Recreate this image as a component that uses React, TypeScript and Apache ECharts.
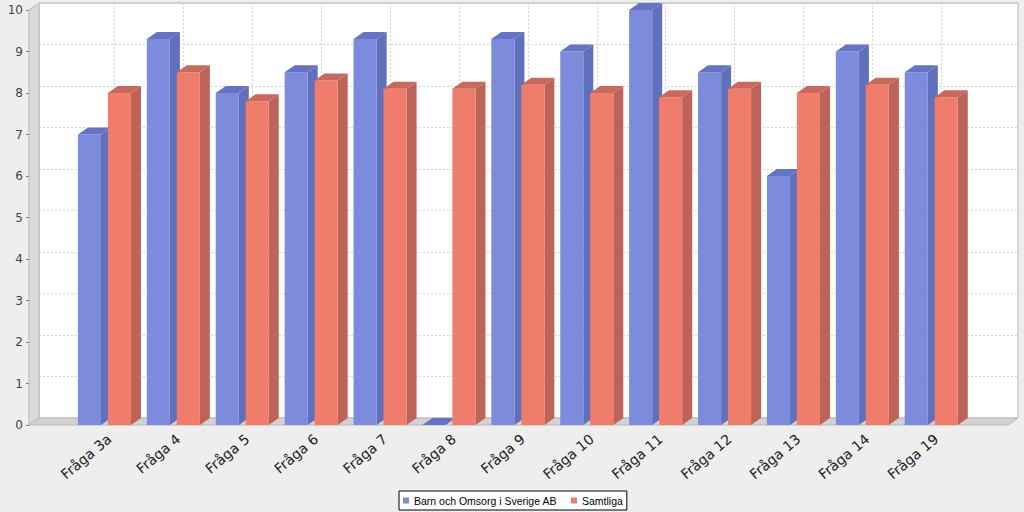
import React, { useEffect, useRef } from "react";
import * as echarts from "echarts";

const categories = ["Fråga 3a", "Fråga 4", "Fråga 5", "Fråga 6", "Fråga 7", "Fråga 8", "Fråga 9", "Fråga 10", "Fråga 11", "Fråga 12", "Fråga 13", "Fråga 14", "Fråga 19"];
const seriesNames = ["Barn och Omsorg i Sverige AB", "Samtliga"];
const barnValues = [7.0, 9.3, 8.0, 8.5, 9.3, 0, 9.3, 9.0, 10.0, 8.5, 6.0, 9.0, 8.5];
const samtligaValues = [8.0, 8.5, 7.8, 8.3, 8.1, 8.1, 8.2, 8.0, 7.9, 8.1, 8.0, 8.2, 7.9];
const yTicks = [0, 10, 1];

const DX = 10;
const DY = 7;

const palettes = [
  { front: "#7d8bdc", top: "#6673c4", side: "#6170ba" },
  { front: "#f07c6c", top: "#c9695c", side: "#be6357" },
];

function makeRender(seriesIdx: number) {
  const pal = palettes[seriesIdx];
  return (params: any, api: any) => {
    const idx = api.value(0);
    const val = api.value(1);
    const base = api.coord([idx, 0]);
    const top = api.coord([idx, val]);
    const band = api.size([1, 0])[0];
    const w = band * 0.335;
    const cx = base[0];
    const x0 = seriesIdx === 0 ? cx - band * 0.385 : cx + band * 0.05;
    const yb = base[1];
    const yt = top[1];
    const children: any[] = [];
    children.push({
      type: "polygon",
      shape: { points: [[x0 + w, yt], [x0 + w + DX, yt - DY], [x0 + w + DX, yb - DY], [x0 + w, yb]] },
      style: { fill: pal.side },
    });
    if (yb - yt > 0) {
      children.push({
        type: "rect",
        shape: { x: x0, y: yt, width: w, height: yb - yt },
        style: { fill: pal.front },
      });
    }
    children.push({
      type: "polygon",
      shape: { points: [[x0, yt], [x0 + DX, yt - DY], [x0 + w + DX, yt - DY], [x0 + w, yt]] },
      style: { fill: pal.top },
    });
    return { type: "group", children };
  };
}

export default function App() {
  const ref = useRef<HTMLDivElement>(null);
  useEffect(() => {
    document.body.style.margin = "0";
    document.body.style.background = "#eeeeee";
    const chart = echarts.init(ref.current!, null, { renderer: "svg" });
    const frontLeft = 29, frontRight = 1008, frontTop = 10, frontBottom = 425;
    const option: any = {
      animation: false,
      backgroundColor: "#eeeeee",
      textStyle: { fontFamily: "DejaVu Sans" },
      legend: {
        bottom: 2,
        left: 399,
        data: seriesNames,
        icon: "rect",
        itemWidth: 6,
        itemHeight: 6,
        itemGap: 14,
        padding: [4, 4],
        borderColor: "#000",
        borderWidth: 1,
        borderRadius: 0,
        backgroundColor: "#ffffff",
        textStyle: { fontSize: 10.5, color: "#000", fontFamily: "Liberation Sans" },
      },
      grid: [
        { left: 70, right: 58.3, top: frontTop, bottom: 512 - frontBottom },
        { left: frontLeft + DX, right: 1024 - frontRight - DX, top: frontTop - DY, bottom: 512 - frontBottom + DY, show: true, backgroundColor: "#ffffff", borderColor: "#b4b4b4", borderWidth: 1, z: 0 },
        { left: 104.5 + DX, right: 1024 - 931.3 - DX, top: frontTop - DY, bottom: 512 - frontBottom + DY },
        { left: 75, right: 53.3, top: frontTop, bottom: 512 - frontBottom },
      ],
      xAxis: [
        {
          type: "category",
          gridIndex: 0,
          data: categories,
          axisLine: { show: false },
          axisTick: { show: false },
          axisLabel: { show: false },
        },
        { type: "category", gridIndex: 1, data: categories, show: false },
        {
          type: "category",
          gridIndex: 2,
          data: categories,
          boundaryGap: false,
          axisLine: { show: false },
          axisTick: { show: false },
          axisLabel: { show: false },
          splitLine: { show: true, lineStyle: { color: "#d4d4d4", type: [2, 2], width: 1 } },
        },
        {
          type: "category",
          gridIndex: 3,
          data: categories,
          axisLine: { show: false },
          axisTick: { show: false },
          axisLabel: { rotate: 40, fontSize: 14, color: "#222", margin: 12, interval: 0 },
        },
      ],
      yAxis: [
        {
          type: "value",
          gridIndex: 0,
          min: yTicks[0],
          max: yTicks[1],
          interval: yTicks[2],
          offset: 70 - frontLeft,
          axisLine: { show: false },
          axisTick: { show: true, length: 3, lineStyle: { color: "#777" } },
          axisLabel: { fontSize: 12, color: "#444", margin: 6 },
          splitLine: { show: false },
        },
        {
          type: "value",
          gridIndex: 1,
          min: yTicks[0],
          max: yTicks[1],
          interval: yTicks[2],
          axisLine: { show: false },
          axisTick: { show: false },
          axisLabel: { show: false },
          splitLine: { show: true, lineStyle: { color: "#d4d4d4", type: [2, 2], width: 1 } },
        },
        { type: "value", gridIndex: 2, show: false, min: 0, max: 10 },
        { type: "value", gridIndex: 3, show: false, min: 0, max: 10 },
      ],
      graphic: [
        {
          type: "polygon",
          z: 1,
          silent: true,
          shape: { points: [[frontLeft, frontTop], [frontLeft + DX, frontTop - DY], [frontLeft + DX, frontBottom - DY], [frontLeft, frontBottom]] },
          style: { fill: "#dadada", stroke: "#b8b8b8", lineWidth: 1 },
        },
        {
          type: "polygon",
          z: 1,
          silent: true,
          shape: { points: [[frontLeft, frontBottom], [frontLeft + DX, frontBottom - DY], [frontRight + DX, frontBottom - DY], [frontRight, frontBottom]] },
          style: { fill: "#d2d2d2", stroke: "#b8b8b8", lineWidth: 1 },
        },
      ],
      series: [
        {
          name: seriesNames[0],
          type: "custom",
          xAxisIndex: 0,
          yAxisIndex: 0,
          z: 3,
          itemStyle: { color: palettes[0].front },
          renderItem: makeRender(0),
          data: barnValues.map((v, i) => [i, v]),
          encode: { x: 0, y: 1 },
        },
        {
          name: seriesNames[1],
          type: "custom",
          xAxisIndex: 0,
          yAxisIndex: 0,
          z: 4,
          itemStyle: { color: palettes[1].front },
          renderItem: makeRender(1),
          data: samtligaValues.map((v, i) => [i, v]),
          encode: { x: 0, y: 1 },
        },
      ],
    };
    chart.setOption(option);
    return () => chart.dispose();
  }, []);
  return <div ref={ref} style={{ width: 1024, height: 512, background: "#eeeeee" }} />;
}
